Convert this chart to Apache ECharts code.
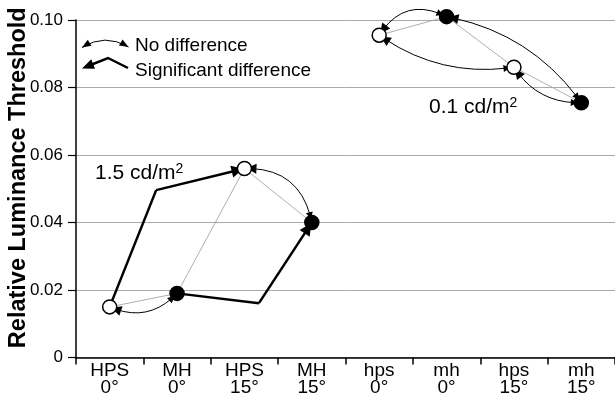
<!DOCTYPE html>
<html>
<head>
<meta charset="utf-8">
<script src="https://cdn.jsdelivr.net/npm/echarts@6/dist/echarts.min.js"></script>
<style>
  html, body { margin: 0; padding: 0; background: #fff; }
  #chart { width: 615px; height: 401px; }
</style>
</head>
<body>
<div id="chart"></div>
<script>
// columns: lamp type and off-axis angle
var lampNames = ['HPS', 'MH', 'HPS', 'MH', 'hps', 'mh', 'hps', 'mh'];
var angles = ['0°', '0°', '15°', '15°', '0°', '0°', '15°', '15°'];
// relative luminance threshold for each column
var thresholds = [0.015, 0.019, 0.056, 0.040, 0.0955, 0.101, 0.086, 0.0755];
// MH points are filled, HPS points are open
var filled = [false, true, false, true, false, true, false, true];
// thin grey connections between columns
var greyLinks = [[0, 1], [1, 2], [2, 3], [4, 5], [5, 6], [6, 7]];
// "no difference" pairs
var noDiffLinks = [[0, 1], [2, 3], [4, 5], [4, 6], [5, 7], [6, 7]];
var noDiffBend = [-0.35, 0.42, 0.45, -0.2, 0.2, -0.28];
// "significant difference" paths: from column, via point [column, value], to column
var sigFrom = [0, 1];
var sigVia = [[0.69, 0.0496], [2.215, 0.0161]];
var sigTo = [2, 3];
// y axis
var yMin = 0, yMax = 0.1, yStep = 0.02;

var categories = lampNames.map(function (n, i) { return n + '\n' + angles[i]; });

var nodes = thresholds.map(function (v, i) {
  return {
    name: 'p' + i,
    value: [i, v],
    symbolSize: 14,
    itemStyle: { color: filled[i] ? '#000' : '#fff', borderColor: '#000', borderWidth: 1.5 }
  };
});
sigVia.forEach(function (p, i) {
  nodes.push({ name: 'via' + i, value: p, symbol: 'none', symbolSize: 0 });
});

var links = [];
greyLinks.forEach(function (l) {
  links.push({ source: 'p' + l[0], target: 'p' + l[1],
    lineStyle: { color: '#9a9a9a', width: 0.8, curveness: 0 } });
});
noDiffLinks.forEach(function (l, i) {
  // drawn in reverse so the edge does not clash with the grey one
  links.push({ source: 'p' + l[1], target: 'p' + l[0],
    symbol: ['triangle', 'triangle'], symbolSize: [7, 10],
    lineStyle: { color: '#000', width: 1, curveness: -noDiffBend[i] } });
});
sigFrom.forEach(function (f, i) {
  links.push({ source: 'p' + f, target: 'via' + i,
    lineStyle: { color: '#000', width: 2.5, curveness: 0 } });
  links.push({ source: 'via' + i, target: 'p' + sigTo[i],
    symbol: ['none', 'triangle'], symbolSize: [9, 12],
    lineStyle: { color: '#000', width: 2.5, curveness: 0 } });
});

function arrowHead(tip, dir, len, hw) {
  var d = Math.sqrt(dir[0] * dir[0] + dir[1] * dir[1]);
  var ux = dir[0] / d, uy = dir[1] / d;
  var bx = tip[0] - ux * len, by = tip[1] - uy * len;
  return [tip, [bx - uy * hw, by + ux * hw], [bx + uy * hw, by - ux * hw]];
}

var font = '"Liberation Sans", Arial, sans-serif';

var chart = echarts.init(document.getElementById('chart'));
chart.setOption({
  animation: false,
  backgroundColor: '#fff',
  grid: { left: 76, right: 0, top: 20, bottom: 43.5, outerBoundsMode: 'none' },
  xAxis: [{
    type: 'category',
    data: categories,
    boundaryGap: true,
    axisLine: { lineStyle: { color: '#000', width: 1.5 } },
    axisTick: { show: true, length: 7, lineStyle: { color: '#000', width: 1.5 } },
    axisLabel: { interval: 0, color: '#000', fontSize: 19, lineHeight: 17, margin: 5, fontFamily: font },
    splitLine: { show: false }
  }, {
    type: 'value',
    show: false,
    min: -0.5,
    max: lampNames.length - 0.5
  }],
  yAxis: {
    type: 'value',
    min: yMin,
    max: yMax,
    interval: yStep,
    name: 'Relative Luminance Threshold',
    nameLocation: 'middle',
    nameGap: 45,
    nameMoveOverlap: false,
    nameTextStyle: { fontSize: 23.5, fontWeight: 'bold', color: '#000', fontFamily: font, padding: [0, 0, 0, 22] },
    axisLine: { show: true, onZero: false, lineStyle: { color: '#000', width: 1.5 } },
    axisTick: { show: true, length: 8, lineStyle: { color: '#000', width: 1.2 } },
    axisLabel: {
      color: '#000', fontSize: 17, margin: 13, fontFamily: font,
      formatter: function (v) { return v === 0 ? '0' : v.toFixed(2); }
    },
    splitLine: { show: true, lineStyle: { color: '#aaaaaa', width: 1 } }
  },
  series: [{
    type: 'graph',
    coordinateSystem: 'cartesian2d',
    xAxisIndex: 1,
    yAxisIndex: 0,
    z: 5,
    data: nodes,
    links: links,
    label: { show: false },
    emphasis: { disabled: true },
    lineStyle: { opacity: 1 }
  }],
  graphic: [
    // legend: no difference
    { type: 'bezierCurve', shape: { x1: 82, y1: 47.5, x2: 128.5, y2: 47, cpx1: 105, cpy1: 33 },
      style: { stroke: '#000', lineWidth: 1, fill: null } },
    { type: 'polygon', shape: { points: arrowHead([82, 47.5], [82 - 105, 47.5 - 33], 9, 3.5) }, style: { fill: '#000' } },
    { type: 'polygon', shape: { points: arrowHead([128.5, 47], [128.5 - 105, 47 - 33], 9, 3.5) }, style: { fill: '#000' } },
    { type: 'text', left: 135, top: 36, style: { text: 'No difference', fill: '#000', fontSize: 19, fontFamily: font } },
    // legend: significant difference
    { type: 'polyline', shape: { points: [[128, 68], [108, 58], [88, 66]] },
      style: { stroke: '#000', lineWidth: 2.5, fill: null } },
    { type: 'polygon', shape: { points: arrowHead([82, 68.5], [82 - 108, 68.5 - 58], 12, 5) }, style: { fill: '#000' } },
    { type: 'text', left: 135, top: 61, style: { text: 'Significant difference', fill: '#000', fontSize: 19, fontFamily: font } },
    // luminance annotations
    { type: 'text', left: 95, top: 162, style: {
        text: '{a|1.5 cd/m}{s|2}', fill: '#000', fontFamily: font,
        rich: { a: { fontSize: 21, lineHeight: 22, fontFamily: font }, s: { fontSize: 14, lineHeight: 12, verticalAlign: 'top', fontFamily: font } } } },
    { type: 'text', left: 429, top: 96, style: {
        text: '{a|0.1 cd/m}{s|2}', fill: '#000', fontFamily: font,
        rich: { a: { fontSize: 21, lineHeight: 22, fontFamily: font }, s: { fontSize: 14, lineHeight: 12, verticalAlign: 'top', fontFamily: font } } } }
  ]
});
</script>
</body>
</html>
